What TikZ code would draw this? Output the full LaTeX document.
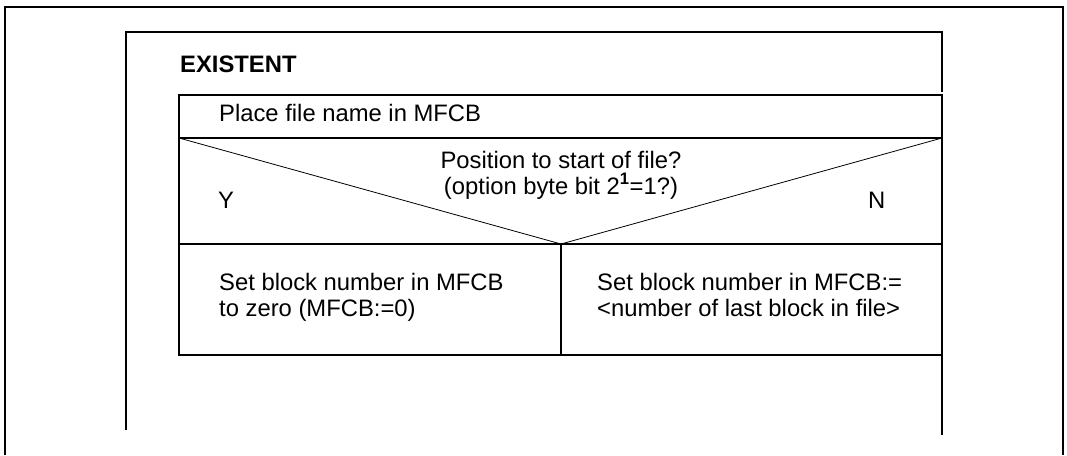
\documentclass[tikz,border=0pt]{standalone}
\usepackage{fontspec}
\setmainfont{Liberation Sans}
\tikzset{
  frameline/.style={line width=1.1pt},
  cellline/.style={line width=1.1pt},
  diagline/.style={line width=0.8pt},
  txt/.style={inner sep=0pt, anchor=base west, font=\fontsize{23.8}{25.5}\selectfont},
  para/.style={txt, align=left},
  cpara/.style={txt, anchor=base, align=center},
}
\begin{document}
\begin{tikzpicture}[x=1pt,y=-1pt]
\useasboundingbox (0,0) rectangle (1067,455);
% page frame
\draw[frameline] (5,455) -- (5,7) -- (1063,7) -- (1063,455);
% section frame
\draw[frameline] (126,430) -- (126,32) -- (942,32) -- (942,92);
\draw[frameline] (942,355) -- (942,435);
% structogram corners
\coordinate (tl) at (179,95);
\coordinate (br) at (942,355);
\coordinate (ml) at (179,138);
\coordinate (mr) at (942,138);
\coordinate (hl) at (179,244);
\coordinate (hr) at (942,244);
\coordinate (apex) at (561,244);
\coordinate (bm) at (561,355);
\draw[cellline] (tl) rectangle (br);
\draw[cellline] (ml) -- (mr);
\draw[cellline] (hl) -- (hr);
\draw[cellline] (apex) -- (bm);
\draw[diagline] (ml) -- (apex) -- (mr);
% texts (multi-line nodes are placed by the baseline of their last line)
\node[txt, font=\fontsize{23.8}{25.5}\selectfont\bfseries] (title) at (180,72) {EXISTENT};
\node[txt] (place) at (219,121) {Place file name in MFCB};
\node[cpara] (cond) at (561,194) {Position to start of file?\\(option byte bit 2\textsuperscript{\textbf{1}}=1?)};
\node[txt] (yes) at (218,208) {Y};
\node[txt] (no) at (868,208) {N};
\node[para] (left) at (219,316) {Set block number in MFCB\\to zero (MFCB:=0)};
\node[para] (right) at (597,316) {Set block number in MFCB:=\\<number of last block in file>};
\end{tikzpicture}
\end{document}
